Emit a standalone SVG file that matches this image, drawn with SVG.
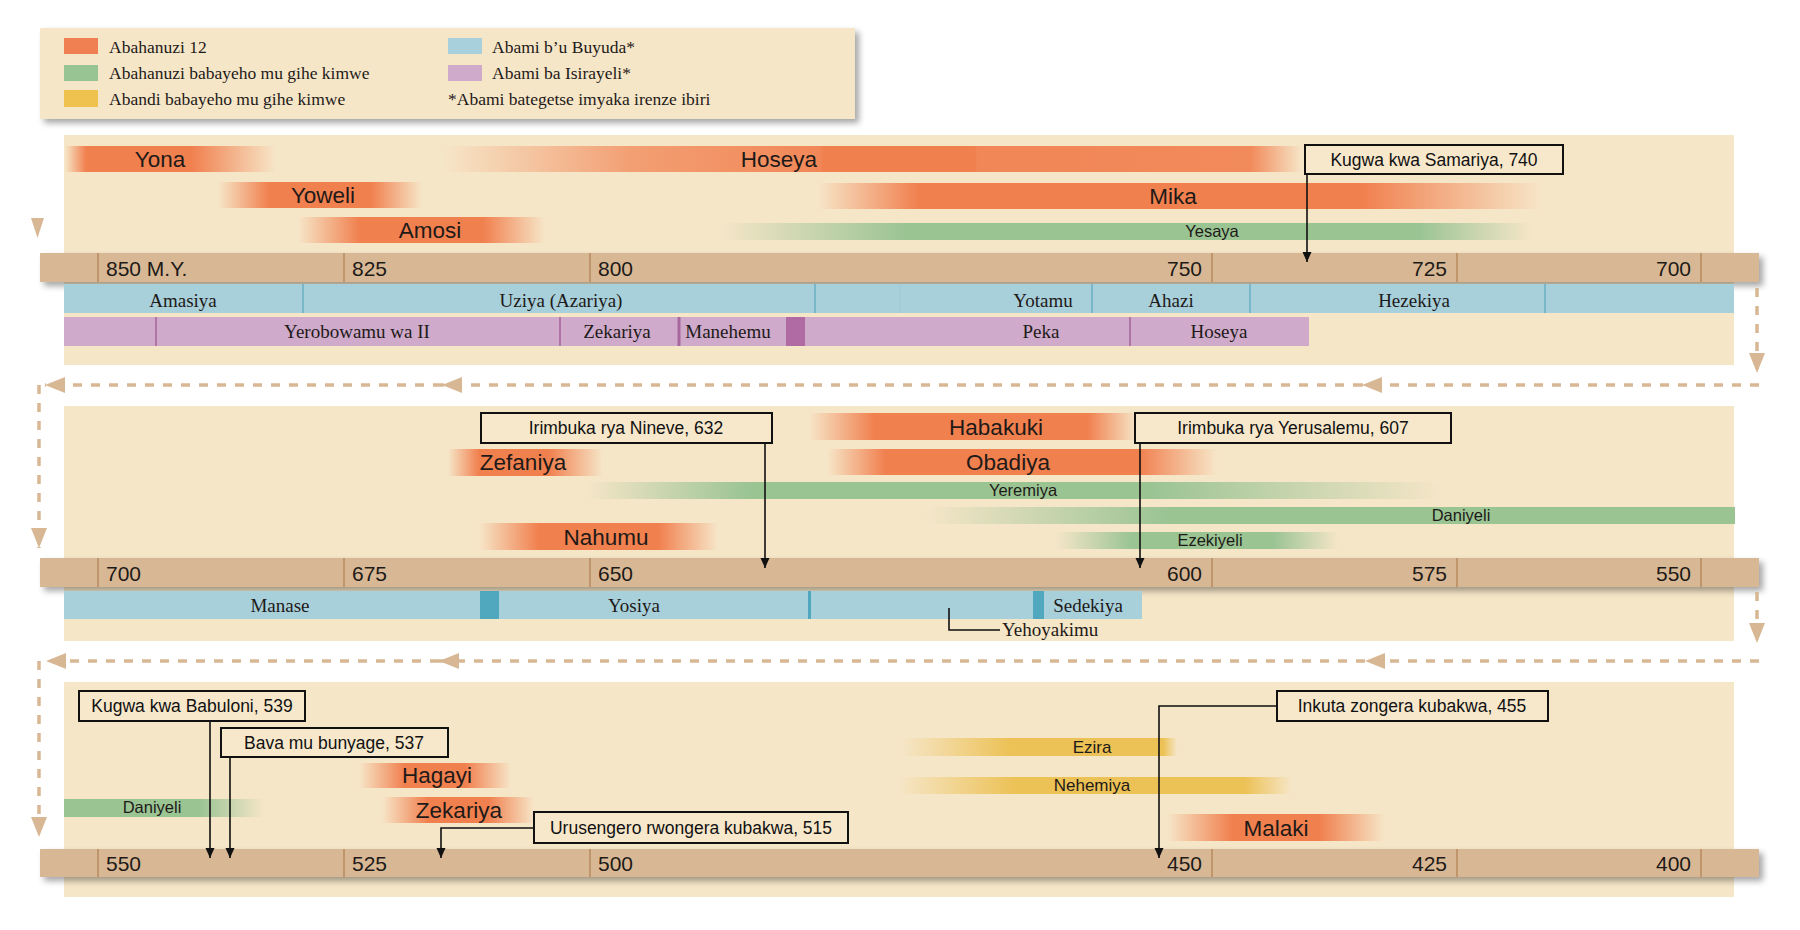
<svg xmlns="http://www.w3.org/2000/svg" width="1800" height="930" viewBox="0 0 1800 930">
<style>
.panel{fill:#f6e6c8}
.axis{fill:#d8b894}
.tick{stroke:#b98a5e;stroke-width:1.5}
.big{font-family:"Liberation Sans",Arial,sans-serif;font-size:22.5px;fill:#1e1a18}
.sm{font-family:"Liberation Sans",Arial,sans-serif;font-size:16.5px;fill:#1e1a18}
.ax{font-family:"Liberation Sans",Arial,sans-serif;font-size:21px;fill:#1e1a18}
.co{font-family:"Liberation Sans",Arial,sans-serif;font-size:17.5px;fill:#111;text-anchor:middle}
.cobox{fill:#f7e8cc;stroke:#111;stroke-width:2}
.kg{font-family:"Liberation Serif","Times New Roman",serif;font-size:19px;fill:#1e1a18;text-anchor:middle}
.lg{font-family:"Liberation Serif","Times New Roman",serif;font-size:17.5px;fill:#1e1a18}
.mid{text-anchor:middle}
.end{text-anchor:end}
.jud{fill:#a8d0db}
.isr{fill:#cfaacb}
.jdiv{stroke:#6fb2c5;stroke-width:1.6}
.idiv{stroke:#a8689e;stroke-width:1.6}
.dash{fill:none;stroke:#d8b894;stroke-width:3.5;stroke-dasharray:9 9}
.lead{fill:none;stroke:#111;stroke-width:1.6}
</style>
<defs>
<filter id="sh" x="-5%" y="-30%" width="110%" height="170%">
<feDropShadow dx="4" dy="4" stdDeviation="3" flood-color="#000" flood-opacity="0.35"/>
</filter>
<marker id="tan" markerUnits="userSpaceOnUse" markerWidth="20" markerHeight="16" viewBox="0 0 20 16" refX="20" refY="8" orient="auto">
<path d="M0,0 L20,8 L0,16 z" fill="#d8b894"/>
</marker>
<marker id="blk" markerUnits="userSpaceOnUse" markerWidth="10" markerHeight="10" viewBox="0 0 10 10" refX="10" refY="5" orient="auto">
<path d="M0,0.5 L10,5 L0,9.5 z" fill="#111"/>
</marker>
<linearGradient id="gYona"><stop offset="0" stop-color="#f1804f" stop-opacity="0"/><stop offset="0.1" stop-color="#f1804f"/><stop offset="0.6" stop-color="#f1804f"/><stop offset="1" stop-color="#f1804f" stop-opacity="0"/></linearGradient>
<linearGradient id="gHoseya"><stop offset="0" stop-color="#f1804f" stop-opacity="0"/><stop offset="0.22" stop-color="#f1804f" stop-opacity="0.7"/><stop offset="0.44" stop-color="#f1804f" stop-opacity="0.93"/><stop offset="0.443" stop-color="#f1804f"/><stop offset="0.62" stop-color="#f1804f"/><stop offset="0.622" stop-color="#f1804f" stop-opacity="0.94"/><stop offset="0.94" stop-color="#f1804f" stop-opacity="0.9"/><stop offset="1" stop-color="#f1804f" stop-opacity="0"/></linearGradient>
<linearGradient id="gO25"><stop offset="0" stop-color="#f1804f" stop-opacity="0"/><stop offset="0.25" stop-color="#f1804f"/><stop offset="0.75" stop-color="#f1804f"/><stop offset="1" stop-color="#f1804f" stop-opacity="0"/></linearGradient>
<linearGradient id="gO30"><stop offset="0" stop-color="#f1804f" stop-opacity="0"/><stop offset="0.3" stop-color="#f1804f"/><stop offset="0.7" stop-color="#f1804f"/><stop offset="1" stop-color="#f1804f" stop-opacity="0"/></linearGradient>
<linearGradient id="gMika"><stop offset="0" stop-color="#f1804f" stop-opacity="0"/><stop offset="0.14" stop-color="#f1804f"/><stop offset="0.75" stop-color="#f1804f"/><stop offset="1" stop-color="#f1804f" stop-opacity="0"/></linearGradient>
<linearGradient id="gHab"><stop offset="0" stop-color="#f1804f" stop-opacity="0"/><stop offset="0.2" stop-color="#f1804f"/><stop offset="0.85" stop-color="#f1804f"/><stop offset="1" stop-color="#f1804f" stop-opacity="0"/></linearGradient>
<linearGradient id="gOba"><stop offset="0" stop-color="#f1804f" stop-opacity="0"/><stop offset="0.15" stop-color="#f1804f"/><stop offset="0.8" stop-color="#f1804f"/><stop offset="1" stop-color="#f1804f" stop-opacity="0"/></linearGradient>
<linearGradient id="gZef"><stop offset="0" stop-color="#f1804f" stop-opacity="0"/><stop offset="0.2" stop-color="#f1804f"/><stop offset="0.65" stop-color="#f1804f"/><stop offset="1" stop-color="#f1804f" stop-opacity="0"/></linearGradient>
<linearGradient id="gYes"><stop offset="0" stop-color="#9bc493" stop-opacity="0"/><stop offset="0.23" stop-color="#9bc493"/><stop offset="0.86" stop-color="#9bc493"/><stop offset="1" stop-color="#9bc493" stop-opacity="0"/></linearGradient>
<linearGradient id="gYer"><stop offset="0" stop-color="#9bc493" stop-opacity="0"/><stop offset="0.19" stop-color="#9bc493"/><stop offset="0.66" stop-color="#9bc493"/><stop offset="1" stop-color="#9bc493" stop-opacity="0"/></linearGradient>
<linearGradient id="gDan"><stop offset="0" stop-color="#9bc493" stop-opacity="0"/><stop offset="0.3" stop-color="#9bc493"/><stop offset="1" stop-color="#9bc493"/></linearGradient>
<linearGradient id="gEze"><stop offset="0" stop-color="#9bc493" stop-opacity="0"/><stop offset="0.27" stop-color="#9bc493"/><stop offset="0.77" stop-color="#9bc493"/><stop offset="1" stop-color="#9bc493" stop-opacity="0"/></linearGradient>
<linearGradient id="gDan3"><stop offset="0" stop-color="#9bc493"/><stop offset="0.68" stop-color="#9bc493"/><stop offset="1" stop-color="#9bc493" stop-opacity="0"/></linearGradient>
<linearGradient id="gEzi"><stop offset="0" stop-color="#ecc155" stop-opacity="0"/><stop offset="0.4" stop-color="#ecc155"/><stop offset="0.95" stop-color="#ecc155"/><stop offset="1" stop-color="#ecc155" stop-opacity="0"/></linearGradient>
<linearGradient id="gNeh"><stop offset="0" stop-color="#ecc155" stop-opacity="0"/><stop offset="0.3" stop-color="#ecc155"/><stop offset="0.88" stop-color="#ecc155"/><stop offset="1" stop-color="#ecc155" stop-opacity="0"/></linearGradient>
</defs>

<rect width="1800" height="930" fill="#fff"/>

<g id="legend">
<rect x="40" y="28" width="815" height="91" class="panel" filter="url(#sh)"/>
<rect x="64" y="38" width="34" height="16" fill="#f07f52"/>
<text x="109" y="53" class="lg">Abahanuzi 12</text>
<rect x="64" y="65" width="34" height="16" fill="#98c493"/>
<text x="109" y="79" class="lg">Abahanuzi babayeho mu gihe kimwe</text>
<rect x="64" y="90" width="34" height="17" fill="#efc14f"/>
<text x="109" y="105" class="lg">Abandi babayeho mu gihe kimwe</text>
<rect x="448" y="38" width="34" height="16" fill="#a7d0dc"/>
<text x="492" y="53" class="lg">Abami b’u Buyuda*</text>
<rect x="448" y="65" width="34" height="16" fill="#cfaacb"/>
<text x="492" y="79" class="lg">Abami ba Isirayeli*</text>
<text x="448" y="105" class="lg">*Abami bategetse imyaka irenze ibiri</text>
</g>

<g id="panels">
<rect x="64" y="135" width="1670" height="230" class="panel"/>
<rect x="64" y="406" width="1670" height="235" class="panel"/>
<rect x="64" y="682" width="1670" height="215" class="panel"/>
</g>

<g id="yona"><rect x="65" y="146" width="211" height="26" fill="url(#gYona)"/><text x="160" y="167" class="big mid">Yona</text></g>
<g id="hoseya"><rect x="442" y="146" width="860" height="26" fill="url(#gHoseya)"/><text x="779" y="167" class="big mid">Hoseya</text></g>
<g id="yoweli"><rect x="218" y="182" width="204" height="26" fill="url(#gO25)"/><text x="323" y="203" class="big mid">Yoweli</text></g>
<g id="amosi"><rect x="298" y="217" width="247" height="26" fill="url(#gO25)"/><text x="430" y="238" class="big mid">Amosi</text></g>
<g id="mika"><rect x="817" y="183" width="726" height="26" fill="url(#gMika)"/><text x="1173" y="204" class="big mid">Mika</text></g>
<g id="yesaya"><rect x="718" y="223" width="815" height="17" fill="url(#gYes)"/><text x="1212" y="237" class="sm mid">Yesaya</text></g>

<g id="habakuki"><rect x="809" y="413" width="328" height="27" fill="url(#gHab)"/><text x="996" y="435" class="big mid">Habakuki</text></g>
<g id="obadiya"><rect x="827" y="449" width="390" height="26" fill="url(#gOba)"/><text x="1008" y="470" class="big mid">Obadiya</text></g>
<g id="zefaniya"><rect x="448" y="449" width="155" height="27" fill="url(#gZef)"/><text x="523" y="470" class="big mid">Zefaniya</text></g>
<g id="yeremiya"><rect x="585" y="482" width="860" height="17" fill="url(#gYer)"/><text x="1023" y="496" class="sm mid">Yeremiya</text></g>
<g id="daniyeli2"><rect x="923" y="507" width="812" height="17" fill="url(#gDan)"/><text x="1461" y="521" class="sm mid">Daniyeli</text></g>
<g id="ezekiyeli"><rect x="1055" y="532" width="284" height="17" fill="url(#gEze)"/><text x="1210" y="546" class="sm mid">Ezekiyeli</text></g>
<g id="nahumu"><rect x="479" y="523" width="239" height="27" fill="url(#gO25)"/><text x="606" y="545" class="big mid">Nahumu</text></g>

<g id="daniyeli3"><rect x="64" y="799" width="200" height="18" fill="url(#gDan3)"/><text x="152" y="813" class="sm mid">Daniyeli</text></g>
<g id="hagayi"><rect x="359" y="763" width="152" height="25" fill="url(#gO30)"/><text x="437" y="783" class="big mid">Hagayi</text></g>
<g id="zekariya3"><rect x="382" y="797" width="152" height="26" fill="url(#gO30)"/><text x="459" y="818" class="big mid">Zekariya</text></g>
<g id="ezira"><rect x="901" y="738" width="276" height="18" fill="url(#gEzi)"/><text x="1092" y="753" class="sm mid" style="font-size:17px">Ezira</text></g>
<g id="nehemiya"><rect x="898" y="777" width="394" height="17" fill="url(#gNeh)"/><text x="1092" y="791" class="sm mid" style="font-size:17px">Nehemiya</text></g>
<g id="malaki"><rect x="1167" y="814" width="218" height="27" fill="url(#gO30)"/><text x="1276" y="836" class="big mid">Malaki</text></g>

<g id="axis1">
<rect x="40" y="253" width="1719" height="29" class="axis" filter="url(#sh)"/>
<line x1="98" y1="253" x2="98" y2="282" class="tick"/><line x1="344" y1="253" x2="344" y2="282" class="tick"/><line x1="590" y1="253" x2="590" y2="282" class="tick"/><line x1="1212" y1="253" x2="1212" y2="282" class="tick"/><line x1="1457" y1="253" x2="1457" y2="282" class="tick"/><line x1="1701" y1="253" x2="1701" y2="282" class="tick"/>
<text x="106" y="276" class="ax">850 M.Y.</text><text x="352" y="276" class="ax">825</text><text x="598" y="276" class="ax">800</text>
<text x="1202" y="276" class="ax end">750</text><text x="1447" y="276" class="ax end">725</text><text x="1691" y="276" class="ax end">700</text>
</g>

<g id="judah1">
<rect x="64" y="284" width="1670" height="29" class="jud"/>
<line x1="303" y1="284" x2="303" y2="313" class="jdiv"/><line x1="815" y1="284" x2="815" y2="313" class="jdiv"/><line x1="900" y1="284" x2="900" y2="313" stroke="#9cc8d4" stroke-width="1"/><line x1="1092" y1="284" x2="1092" y2="313" class="jdiv"/><line x1="1250" y1="284" x2="1250" y2="313" class="jdiv"/><line x1="1545" y1="284" x2="1545" y2="313" class="jdiv"/>
<text x="183" y="307" class="kg">Amasiya</text><text x="561" y="307" class="kg">Uziya (Azariya)</text><text x="1043" y="307" class="kg">Yotamu</text><text x="1171" y="307" class="kg">Ahazi</text><text x="1414" y="307" class="kg">Hezekiya</text>
</g>
<g id="israel1">
<rect x="64" y="317" width="1245" height="29" class="isr"/>
<line x1="156" y1="317" x2="156" y2="346" class="idiv"/><line x1="560" y1="317" x2="560" y2="346" class="idiv"/><line x1="679" y1="317" x2="679" y2="346" class="idiv" style="stroke-width:3"/><rect x="786" y="317" width="19" height="29" fill="#b06ba5"/><line x1="1130" y1="317" x2="1130" y2="346" class="idiv"/>
<text x="357" y="338" class="kg">Yerobowamu wa II</text><text x="617" y="338" class="kg">Zekariya</text><text x="728" y="338" class="kg">Manehemu</text><text x="1041" y="338" class="kg">Peka</text><text x="1219" y="338" class="kg">Hoseya</text>
</g>

<g id="axis2">
<rect x="40" y="558" width="1719" height="29" class="axis" filter="url(#sh)"/>
<line x1="98" y1="558" x2="98" y2="587" class="tick"/><line x1="344" y1="558" x2="344" y2="587" class="tick"/><line x1="590" y1="558" x2="590" y2="587" class="tick"/><line x1="1212" y1="558" x2="1212" y2="587" class="tick"/><line x1="1457" y1="558" x2="1457" y2="587" class="tick"/><line x1="1701" y1="558" x2="1701" y2="587" class="tick"/>
<text x="106" y="581" class="ax">700</text><text x="352" y="581" class="ax">675</text><text x="598" y="581" class="ax">650</text>
<text x="1202" y="581" class="ax end">600</text><text x="1447" y="581" class="ax end">575</text><text x="1691" y="581" class="ax end">550</text>
</g>

<g id="judah2">
<rect x="64" y="591" width="1078" height="28" class="jud"/>
<rect x="480" y="591" width="19" height="28" fill="#4fa8bd"/><rect x="808" y="591" width="3" height="28" fill="#4fa8bd"/><rect x="1033" y="591" width="11" height="28" fill="#4fa8bd"/>
<text x="280" y="612" class="kg">Manase</text><text x="634" y="612" class="kg">Yosiya</text><text x="1088" y="612" class="kg">Sedekiya</text>
</g>
<g id="yehoyakimu">
<path d="M949,608 V630 H1000" class="lead"/>
<text x="1002" y="636" class="kg" style="text-anchor:start">Yehoyakimu</text>
</g>

<g id="axis3">
<rect x="40" y="849" width="1719" height="28" class="axis" filter="url(#sh)"/>
<line x1="98" y1="849" x2="98" y2="877" class="tick"/><line x1="344" y1="849" x2="344" y2="877" class="tick"/><line x1="590" y1="849" x2="590" y2="877" class="tick"/><line x1="1212" y1="849" x2="1212" y2="877" class="tick"/><line x1="1457" y1="849" x2="1457" y2="877" class="tick"/><line x1="1701" y1="849" x2="1701" y2="877" class="tick"/>
<text x="106" y="871" class="ax">550</text><text x="352" y="871" class="ax">525</text><text x="598" y="871" class="ax">500</text>
<text x="1202" y="871" class="ax end">450</text><text x="1447" y="871" class="ax end">425</text><text x="1691" y="871" class="ax end">400</text>
</g>

<g id="connectors">
<polygon points="31,218 44,218 37.5,238" fill="#d8b894"/>
<path d="M1757,288 V373" class="dash" marker-end="url(#tan)"/>
<path d="M1759,385 H1362" class="dash" marker-end="url(#tan)"/>
<path d="M1362,385 H442" class="dash" marker-end="url(#tan)"/>
<path d="M442,385 H45" class="dash" marker-end="url(#tan)"/>
<path d="M39,385 V548" class="dash" marker-end="url(#tan)"/>
<path d="M1757,592 V643" class="dash" marker-end="url(#tan)"/>
<path d="M1759,661 H1365" class="dash" marker-end="url(#tan)"/>
<path d="M1365,661 H439" class="dash" marker-end="url(#tan)"/>
<path d="M439,661 H46" class="dash" marker-end="url(#tan)"/>
<path d="M39,661 V837" class="dash" marker-end="url(#tan)"/>
<path d="M1307,174 V262" class="lead" marker-end="url(#blk)"/>
<path d="M765,443 V568" class="lead" marker-end="url(#blk)"/>
<path d="M1140,443 V568" class="lead" marker-end="url(#blk)"/>
<path d="M210,721 V858" class="lead" marker-end="url(#blk)"/>
<path d="M230,757 V858" class="lead" marker-end="url(#blk)"/>
<path d="M534,828 H441 V858" class="lead" marker-end="url(#blk)"/>
<path d="M1277,706 H1159 V858" class="lead" marker-end="url(#blk)"/>
</g>

<g id="samariya"><rect x="1305" y="145" width="258" height="29" class="cobox"/><text x="1434" y="166" class="co">Kugwa kwa Samariya, 740</text></g>
<g id="nineve"><rect x="481" y="413" width="291" height="30" class="cobox"/><text x="626" y="434" class="co">Irimbuka rya Nineve, 632</text></g>
<g id="yerusalemu"><rect x="1135" y="413" width="316" height="30" class="cobox"/><text x="1293" y="434" class="co">Irimbuka rya Yerusalemu, 607</text></g>
<g id="babuloni"><rect x="79" y="691" width="226" height="30" class="cobox"/><text x="192" y="712" class="co">Kugwa kwa Babuloni, 539</text></g>
<g id="bava"><rect x="221" y="728" width="227" height="29" class="cobox"/><text x="334" y="749" class="co">Bava mu bunyage, 537</text></g>
<g id="urusengero"><rect x="534" y="812" width="314" height="31" class="cobox"/><text x="691" y="834" class="co">Urusengero rwongera kubakwa, 515</text></g>
<g id="inkuta"><rect x="1277" y="691" width="271" height="30" class="cobox"/><text x="1412" y="712" class="co">Inkuta zongera kubakwa, 455</text></g>
</svg>
